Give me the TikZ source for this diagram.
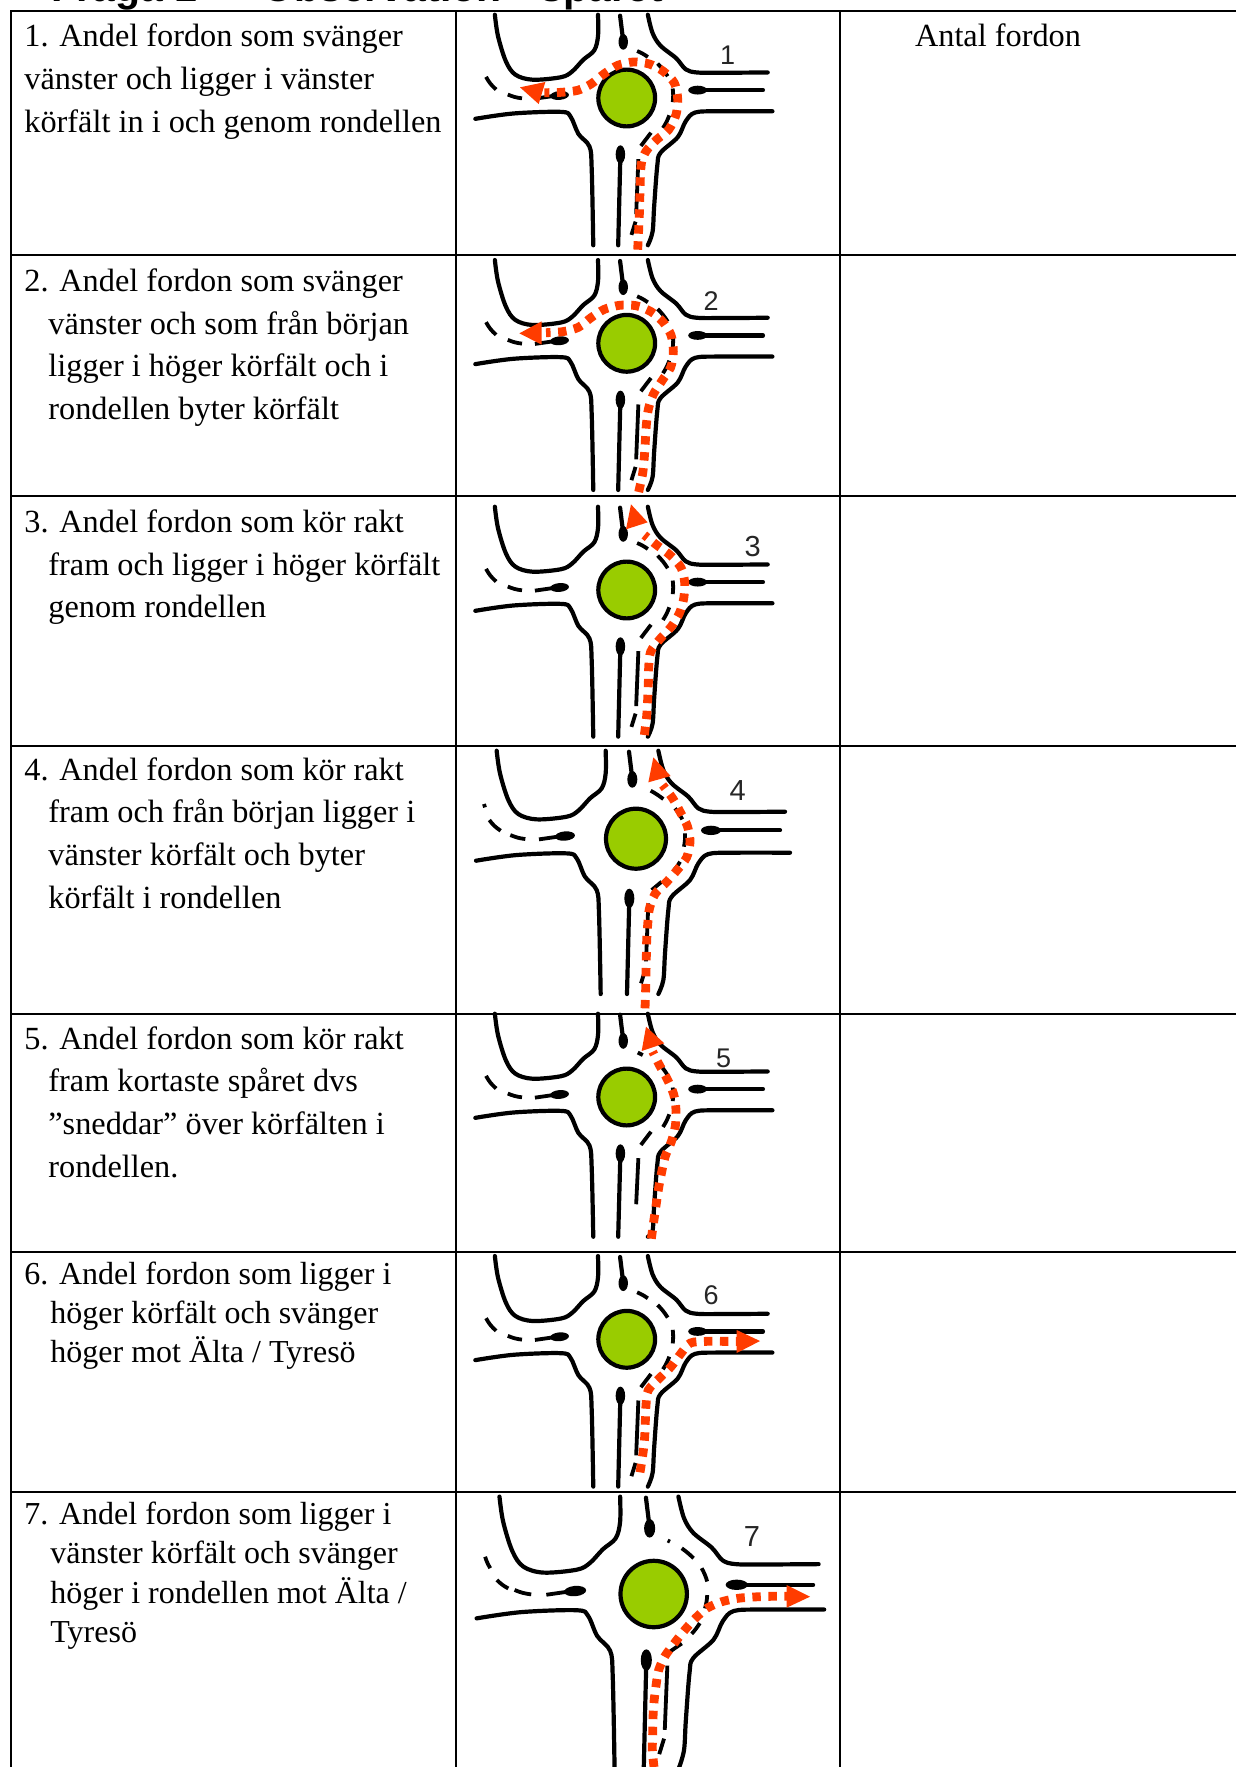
\documentclass[tikz,border=0pt]{standalone}
\usepackage{fontspec}
\setmainfont{Liberation Serif}
\newfontfamily\numfont{Liberation Sans}
\definecolor{greenc}{HTML}{99CC00}
\definecolor{redc}{HTML}{FF3C00}
\tikzset{
  curb/.style={line width=2.1pt,line cap=round,line join=round,black},
  lane/.style={line width=1.9pt,black},
  isl/.style={fill=black,draw=none},
  route/.style={line width=4.4pt,redc,dash pattern=on 4.2pt off 3.8pt},
  tip/.style={fill=redc,draw=none},
  rowtxt/.style={anchor=base west,inner sep=0pt,font=\fontsize{16.15pt}{18pt}\selectfont,text=black},
  rowtxtb/.style={rowtxt,font=\fontsize{16pt}{18pt}\selectfont},
  num/.style={inner sep=0pt,font=\numfont\fontsize{13.5pt}{15pt}\selectfont,text=black!85},
  numb/.style={num,font=\numfont\fontsize{14.5pt}{15pt}\selectfont},
  head/.style={anchor=base west,inner sep=0pt,font=\numfont\bfseries\fontsize{20.5pt}{22pt}\selectfont},
  tline/.style={line width=1pt,black}
}
% #1,#2 centre; #3 pt per unit; #4 y of the lower road ends; #5 lane marks special to the row
\newcommand{\rb}[5]{%
\begin{scope}[shift={(#1,#2)},x=#3pt,y=-#3pt]
  \draw[curb] plot[smooth,tension=.55] coordinates {(-418,-264)(-408,-196)(-383,-116)(-353,-74)(-298,-58)(-208,-66)(-173,-84)(-138,-121)(-103,-151)(-91,-196)(-91,-264)};
  \draw[curb] plot[smooth,tension=.55] coordinates {(67,-264)(82,-206)(107,-166)(157,-126)(187,-91)(222,-81)(292,-80)(447,-81)};
  \draw[curb] plot[smooth,tension=.55] coordinates {(462,42)(292,42)(217,46)(187,74)(162,124)(107,174)(97,214)(87,344)(82,424)(67,#4)};
  \draw[curb] plot[smooth,tension=.55] coordinates {(-480,66)(-358,49)(-208,44)(-178,59)(-153,114)(-118,154)(-111,224)(-106,#4)};
  \draw[curb] (-21,-261)--(-13,-196);
  \fill[isl] (-11,-178) ellipse[x radius=15,y radius=25];
  \draw[curb] (225,-25)--(432,-25);
  \fill[isl] (225,-25) ellipse[x radius=30,y radius=14];
  \draw[curb] (-20,179)--(-27,#4);
  \fill[isl] (-20,179) ellipse[x radius=15,y radius=29];
  \fill[isl,rotate around={5:(-213,-8)}] (-213,-8) ellipse[x radius=30,y radius=14];
  \draw[lane] (-291,2)--(-235,-6);
  \draw[lane] (-377,-11) to[bend right=8] (-332,1);
  #5
  \filldraw[fill=greenc,draw=black,line width=2.1pt] (0,0) circle[radius=90];
\end{scope}}
\newcommand{\dashone}{\draw[lane] (-446,-67) to[bend right=10] (-414,-27);}
\newcommand{\lanemain}{\draw[lane] (37,194)--(30,368); \draw[lane] (28,392)--(15,434);}
\newcommand{\ringtail}{%
  \draw[lane] (98,-109) to[bend left=6] (130,-69);
  \draw[lane] (146,-30) to[bend left=6] (146,13);
  \draw[lane] (135,55) to[bend left=6] (115,95);
  \draw[lane] (77,110) -- (45,152);}
\newcommand{\ringstd}{\draw[lane] (33,-149) to[bend left=6] (67,-130); \ringtail}
\begin{document}
\begin{tikzpicture}[x=.5pt,y=-.5pt]
\useasboundingbox (0,0) rectangle (1236,1767);
\fill[white] (0,0) rectangle (1236,1767);
% clipped heading
\begin{scope}
\clip (0,0) rectangle (1236,11);
\node[head] (h1) at (51,1) {Fråga 1};
\node[head] (h2) at (262,1) {Observation};
\node[head] (h3) at (540,1) {spåret};
\end{scope}
% table
\draw[tline] (11,1767)--(11,11)--(1236,11);
\foreach \y in {255,496,746,1014,1252,1492} \draw[tline] (11,\y)--(1236,\y);
\draw[tline] (456,11)--(456,1767);
\draw[tline] (840,11)--(840,1767);
% text
\node[rowtxt] (t1a) at (24,46) {1. Andel fordon som svänger};
\node[rowtxt] (t1b) at (24,89) {vänster och ligger i vänster};
\node[rowtxt] (t1c) at (24,132) {körfält in i och genom rondellen};
\node[rowtxt] (t2a) at (24,291) {2. Andel fordon som svänger};
\node[rowtxt] (t2b) at (48,334) {vänster och som från början};
\node[rowtxt] (t2c) at (48,376) {ligger i höger körfält och i};
\node[rowtxt] (t2d) at (48,419) {rondellen byter körfält};
\node[rowtxt] (t3a) at (24,532) {3. Andel fordon som kör rakt};
\node[rowtxt] (t3b) at (48,575) {fram och ligger i höger körfält};
\node[rowtxt] (t3c) at (48,617) {genom rondellen};
\node[rowtxt] (t4a) at (24,780) {4. Andel fordon som kör rakt};
\node[rowtxt] (t4b) at (48,822) {fram och från början ligger i};
\node[rowtxt] (t4c) at (48,865) {vänster körfält och byter};
\node[rowtxt] (t4d) at (48,908) {körfält i rondellen};
\node[rowtxt] (t5a) at (24,1049) {5. Andel fordon som kör rakt};
\node[rowtxt] (t5b) at (48,1091) {fram kortaste spåret dvs};
\node[rowtxt] (t5c) at (48,1134) {”sneddar” över körfälten i};
\node[rowtxt] (t5d) at (48,1177) {rondellen.};
\node[rowtxtb] (t6a) at (24,1284) {6. Andel fordon som ligger i};
\node[rowtxtb] (t6b) at (50,1323) {höger körfält och svänger};
\node[rowtxtb] (t6c) at (50,1362) {höger mot Älta / Tyresö};
\node[rowtxtb] (t7a) at (24,1524) {7. Andel fordon som ligger i};
\node[rowtxtb] (t7b) at (50,1563) {vänster körfält och svänger};
\node[rowtxtb] (t7c) at (50,1603) {höger i rondellen mot Älta /};
\node[rowtxtb] (t7d) at (50,1642) {Tyresö};
\node[rowtxt,anchor=base] (ant) at (998,46) {Antal fordon};
% roundabouts
\rb{626.7}{98}{.1577}{467}{\dashone\ringstd\lanemain}
\rb{626.7}{343.3}{.1577}{465}{\dashone\ringstd\lanemain}
\rb{626.7}{590}{.1577}{465}{\dashone\ringstd\lanemain}
\rb{636}{838.7}{.16667}{466}{\draw[lane] (-453,-94)--(-456,-104); \draw[lane] (-406,-24) to[bend left=10] (-440,-56);
  \draw[lane] (44,-144) to[bend left=4] (82,-119);
  \draw[lane] (117,-91) to[bend left=6] (139,-58);
  \draw[lane] (147,-16) to[bend left=6] (144,24);
  \draw[lane] (132,69) to[bend left=6] (114,94);
  \draw[lane] (77,129) -- (47,154);
  \lanemain}
\rb{626.7}{1097}{.1577}{443}{\dashone\draw[lane] (35,-141)--(51,-133); \ringtail \draw[lane] (37,194)--(30,340);}
\rb{626.7}{1339.3}{.1577}{467}{\dashone\ringstd\lanemain}
\rb{653.7}{1594}{.1845}{475}{\draw[lane] (-457,-101) to[bend right=6] (-443,-70); \draw[lane] (-425,-38) to[bend right=8] (-394,-15);
  \draw[lane] (38,-145)--(44,-142);
  \draw[lane] (76,-124) to[bend left=4] (108,-97);
  \draw[lane] (130,-70) to[bend left=6] (145,-34);
  \draw[lane] (145,3) to[bend left=6] (139,39);
  \draw[lane] (125,79) to[bend left=4] (103,108);
  \draw[lane] (76,134) -- (44,156);
  \lanemain}
% routes and labels
\begin{scope}[shift={(456,8)},x=.16667pt,y=-.16667pt]
\draw[route] plot[smooth] coordinates {(545,725)(550,620)(555,475)(570,430)(602,395)(638,365)(660,320)(665,272)(655,225)(622,190)(580,168)(532,162)(485,172)(445,197)(405,228)(365,247)(315,253)(265,254)};
\fill[tip] (192,238)--(268,222)--(248,288)--cycle;
\node[num] (n1) at (815,142) {1};
\end{scope}
\begin{scope}[shift={(456,250)},x=.16667pt,y=-.16667pt]
\draw[route] plot[smooth] coordinates {(548,726)(560,670)(565,620)(568,573)(571,525)(577,478)(592,433)(618,392)(644,352)(652,305)(645,255)(620,215)(585,185)(540,167)(490,166)(445,178)(405,203)(367,232)(320,245)(270,248)};
\fill[tip] (190,250)--(257,214)--(257,284)--cycle;
\node[num] (n2) at (765,152) {2};
\end{scope}
\begin{scope}[shift={(456,495)},x=.16667pt,y=-.16667pt]
\draw[route] plot[smooth] coordinates {(565,720)(572,663)(575,613)(577,566)(578,518)(584,470)(612,432)(645,396)(670,355)(683,311)(686,262)(675,218)(642,180)(602,150)(565,120)};
\fill[tip] (525,28)--(510,103)--(575,82)--cycle;
\node[numb] (n3) at (890,155) {3};
\end{scope}
\begin{scope}[shift={(450,740)},x=.16667pt,y=-.16667pt]
\draw[route] plot[smooth] coordinates {(585,805)(587,747)(588,698)(589,650)(590,602)(593,555)(598,507)(615,462)(648,428)(680,392)(710,352)(720,305)(712,258)(690,215)(668,175)(638,135)};
\fill[tip] (610,52)--(595,127)--(662,108)--cycle;
\node[numb] (n4) at (863,152) {4};
\end{scope}
\begin{scope}[shift={(456,1010)},x=.16667pt,y=-.16667pt]
\draw[route] plot[smooth] coordinates {(586,686)(594,628)(601,580)(608,533)(617,486)(628,438)(646,395)(658,348)(660,300)(653,253)(634,208)(610,165)(590,125)};
\fill[tip] (570,50)--(557,123)--(625,100)--cycle;
\node[num] (n5) at (803,146) {5};
\end{scope}
\begin{scope}[shift={(456,1250)},x=.16667pt,y=-.16667pt]
\draw[route] plot[smooth] coordinates {(552,667)(561,609)(566,561)(568,513)(570,465)(577,420)(612,383)(645,350)(675,310)(703,279)(752,274)(800,274)(845,274)};
\fill[tip] (912,273)--(842,240)--(842,309)--cycle;
\node[num] (n6) at (765,137) {6};
\end{scope}
\begin{scope}[shift={(450,1480)},x=.16667pt,y=-.16667pt]
\draw[route] plot[smooth] coordinates {(612,861)(607,810)(608,760)(609,712)(612,665)(618,617)(626,570)(645,528)(675,487)(705,449)(737,414)(770,385)(816,365)(863,355)(910,351)(960,349)(1015,349)};
\fill[tip] (1080,350)--(1010,315)--(1010,383)--cycle;
\node[numb] (n7) at (906,170) {7};
\end{scope}
\end{tikzpicture}
\end{document}
